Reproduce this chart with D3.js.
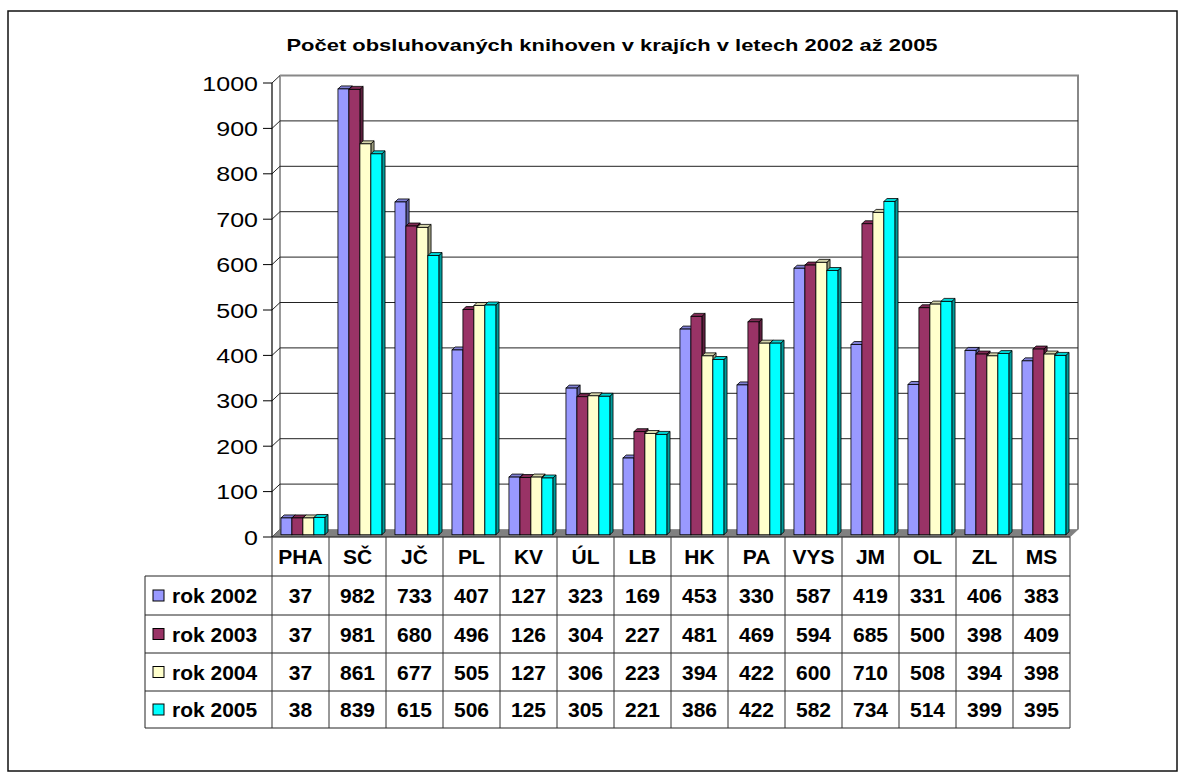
<!DOCTYPE html>
<html>
<head>
<meta charset="utf-8">
<script src="https://cdn.jsdelivr.net/npm/d3@7"></script>
<style>
  body { margin: 0; background: #fff; }
  text { font-family: "Liberation Sans", Arial, sans-serif; }
</style>
</head>
<body>
<script>
var width = 1186;
var height = 780;

// data
var regions = ["PHA", "SČ", "JČ", "PL", "KV", "ÚL", "LB", "HK", "PA", "VYS", "JM", "OL", "ZL", "MS"];
var seriesNames = ["rok 2002", "rok 2003", "rok 2004", "rok 2005"];
var rok2002 = [37, 982, 733, 407, 127, 323, 169, 453, 330, 587, 419, 331, 406, 383];
var rok2003 = [37, 981, 680, 496, 126, 304, 227, 481, 469, 594, 685, 500, 398, 409];
var rok2004 = [37, 861, 677, 505, 127, 306, 223, 394, 422, 600, 710, 508, 394, 398];
var rok2005 = [38, 839, 615, 506, 125, 305, 221, 386, 422, 582, 734, 514, 399, 395];
var yTicks = [0, 100, 200, 300, 400, 500, 600, 700, 800, 900, 1000];
var colors = ["#9999FF", "#993366", "#FFFFCC", "#00FFFF"];
var title = "Počet obsluhovaných knihoven v krajích v letech 2002 až 2005";

var series = [rok2002, rok2003, rok2004, rok2005];

var svg = d3.select("body").append("svg")
    .attr("width", width)
    .attr("height", height);

// outer frame
svg.append("rect")
    .attr("x", 8).attr("y", 11)
    .attr("width", 1169).attr("height", 760)
    .attr("fill", "none")
    .attr("stroke", "#111")
    .attr("stroke-width", 1.5);

// title (Excel stretched it a bit sideways)
svg.append("text")
    .attr("transform", "translate(612,51) scale(1.33,1)")
    .attr("text-anchor", "middle")
    .attr("font-size", 16.5)
    .attr("font-weight", "bold")
    .text(title);

// 3d geometry
var depthX = 8, depthY = -7.5;
var x = d3.scaleBand().domain(regions).range([272, 1070]);
var y = d3.scaleLinear().domain([0, 1000]).range([537, 83]);
var bw = x.bandwidth();
var s = d3.scaleBand().domain(d3.range(4)).range([bw * 0.115, bw * 0.885]);

var x0 = x.range()[0], x1 = x.range()[1];

// back wall + left wall
svg.append("path")
    .attr("d", "M" + (x0 + depthX) + "," + (y(1000) + depthY) +
               "L" + (x1 + depthX) + "," + (y(1000) + depthY) +
               "L" + (x1 + depthX) + "," + (y(0) + depthY))
    .attr("fill", "none").attr("stroke", "#888").attr("stroke-width", 2);
svg.append("line")
    .attr("x1", x0 + depthX).attr("x2", x0 + depthX)
    .attr("y1", y(1000) + depthY).attr("y2", y(0) + depthY)
    .attr("stroke", "#999").attr("stroke-width", 2);

// gridlines on back wall and side wall
var grid = svg.append("g");
yTicks.forEach(function(t) {
    if (t > 0 && t < 1000) {
        grid.append("line")
            .attr("x1", x0 + depthX).attr("x2", x1 + depthX)
            .attr("y1", y(t) + depthY).attr("y2", y(t) + depthY)
            .attr("stroke", "#222").attr("stroke-width", 1);
    }
    grid.append("line")
        .attr("x1", x0).attr("x2", x0 + depthX)
        .attr("y1", y(t)).attr("y2", y(t) + depthY)
        .attr("stroke", "#222").attr("stroke-width", 1);
});

// floor
svg.append("path")
    .attr("d", "M" + x0 + "," + y(0) + "L" + x1 + "," + y(0) +
               "L" + (x1 + depthX) + "," + (y(0) + depthY) +
               "L" + (x0 + depthX) + "," + (y(0) + depthY) + "Z")
    .attr("fill", "#808080").attr("stroke", "#666").attr("stroke-width", 0.5);

// value axis
svg.append("line")
    .attr("x1", x0).attr("x2", x0)
    .attr("y1", y(1000)).attr("y2", y(0))
    .attr("stroke", "#000").attr("stroke-width", 1.2);
var yAxis = svg.append("g");
yTicks.forEach(function(t) {
    yAxis.append("line")
        .attr("x1", x0 - 9).attr("x2", x0)
        .attr("y1", y(t)).attr("y2", y(t))
        .attr("stroke", "#000");
    yAxis.append("text")
        .attr("transform", "translate(" + (x0 - 14) + "," + (y(t) + 7.5) + ") scale(1.22,1)")
        .attr("text-anchor", "end")
        .attr("font-size", 20.5)
        .text(t);
});

// bars: front face at 30% of depth, back at 70%
var f1 = 0.3, f2 = 0.7;
var dx = depthX * (f2 - f1), dy = depthY * (f2 - f1);
function shade(c, k) { return d3.rgb(c).darker(k).toString(); }

var bars = svg.append("g");
regions.forEach(function(r, i) {
    series.forEach(function(vals, j) {
        var v = vals[i];
        var bx = x(r) + s(j) + depthX * f1;
        var by = y(v) + depthY * f1;
        var bb = y(0) + depthY * f1;
        var w = s.bandwidth();
        // side face
        bars.append("path")
            .attr("d", "M" + (bx + w) + "," + by + "L" + (bx + w + dx) + "," + (by + dy) +
                       "L" + (bx + w + dx) + "," + (bb + dy) + "L" + (bx + w) + "," + bb + "Z")
            .attr("fill", shade(colors[j], 1.4)).attr("stroke", "#000").attr("stroke-width", 0.8);
        // top face
        bars.append("path")
            .attr("d", "M" + bx + "," + by + "L" + (bx + w) + "," + by +
                       "L" + (bx + w + dx) + "," + (by + dy) + "L" + (bx + dx) + "," + (by + dy) + "Z")
            .attr("fill", shade(colors[j], 0.5)).attr("stroke", "#000").attr("stroke-width", 0.8);
        // front face
        bars.append("rect")
            .attr("x", bx).attr("y", by)
            .attr("width", w).attr("height", bb - by)
            .attr("fill", colors[j]).attr("stroke", "#000").attr("stroke-width", 0.8);
    });
});

// data table
var rowLines = [576, 615, 653, 691, 728];
var legendLeft = 145;
var table = svg.append("g");

table.append("line")
    .attr("x1", x0).attr("x2", x1).attr("y1", y(0)).attr("y2", y(0))
    .attr("stroke", "#222");
rowLines.forEach(function(ly) {
    table.append("line")
        .attr("x1", legendLeft).attr("x2", x1).attr("y1", ly).attr("y2", ly)
        .attr("stroke", "#222");
});
regions.concat(["end"]).forEach(function(r, i) {
    var lx = x0 + i * bw;
    table.append("line")
        .attr("x1", lx).attr("x2", lx).attr("y1", y(0)).attr("y2", rowLines[4])
        .attr("stroke", "#333");
});
table.append("line")
    .attr("x1", legendLeft).attr("x2", legendLeft)
    .attr("y1", rowLines[0]).attr("y2", rowLines[4])
    .attr("stroke", "#222");

regions.forEach(function(r) {
    table.append("text")
        .attr("x", x(r) + bw / 2)
        .attr("y", (y(0) + rowLines[0]) / 2 + 7.5)
        .attr("text-anchor", "middle")
        .attr("font-size", 21)
        .attr("font-weight", "bold")
        .text(r);
});

series.forEach(function(vals, j) {
    var cy = (rowLines[j] + rowLines[j + 1]) / 2;
    table.append("rect")
        .attr("x", 153).attr("y", cy - 5.5)
        .attr("width", 11).attr("height", 11)
        .attr("fill", colors[j]).attr("stroke", "#000").attr("stroke-width", 1);
    table.append("text")
        .attr("x", 172)
        .attr("y", cy + 7.5)
        .attr("font-size", 21)
        .attr("font-weight", "bold")
        .text(seriesNames[j]);
    vals.forEach(function(v, i) {
        table.append("text")
            .attr("x", x(regions[i]) + bw / 2)
            .attr("y", cy + 7.5)
            .attr("text-anchor", "middle")
            .attr("font-size", 21)
            .attr("font-weight", "bold")
            .text(v);
    });
});
</script>
</body>
</html>
